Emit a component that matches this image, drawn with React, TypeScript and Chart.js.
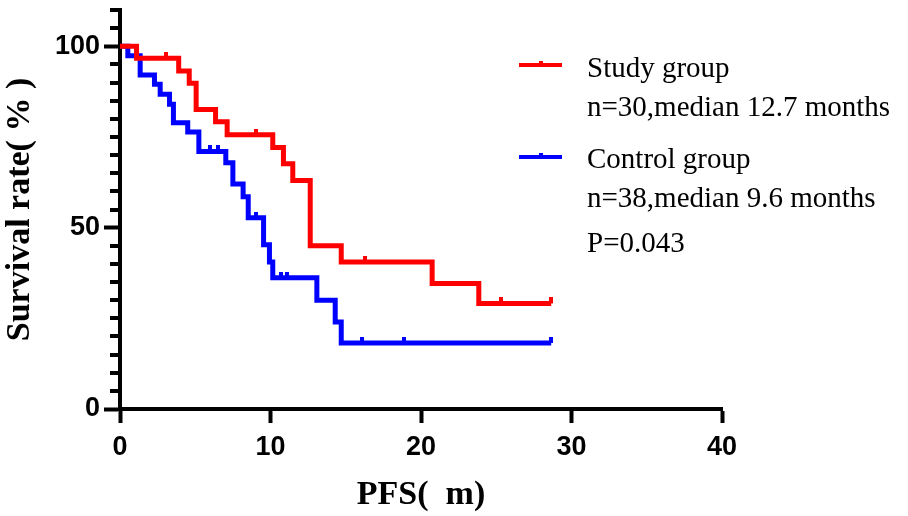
import React, { useEffect, useRef } from "react";
import { Chart, registerables } from "chart.js";

Chart.register(...registerables);

// ---- Data ----
const studyTimes = [0, 1.1, 3.07, 3.9, 4.6, 5.06, 6.35, 7.12, 9.05, 10.15, 10.86, 11.48, 12.64, 14.7, 16.25, 20.74, 23.84, 25.33, 28.65];
const studySurvival = [100, 96.7, 96.7, 93.2, 89.8, 82.6, 79.2, 75.6, 75.6, 72.1, 67.6, 63, 45, 40.5, 40.5, 34.6, 29.1, 29.1, 29.1];
const studyCensored = [false, false, true, false, false, false, false, false, true, false, false, false, false, false, true, false, false, true, true];

const controlTimes = [0, 0.52, 1.34, 2.29, 2.67, 3.29, 3.55, 4.5, 5.24, 6.0, 6.5, 7.03, 7.5, 8.18, 8.52, 9.05, 9.54, 9.93, 10.15, 10.7, 11.1, 13.08, 14.3, 14.7, 16.1, 18.9, 28.65];
const controlSurvival = [100, 97.4, 92.1, 89.5, 86.8, 84.0, 78.9, 76.4, 71.0, 71.0, 71.0, 67.9, 62.0, 58.5, 52.7, 52.7, 45.3, 40.5, 36.2, 36.2, 36.2, 30.0, 24.0, 18.2, 18.2, 18.2, 18.2];
const controlCensored = [false, false, false, false, false, false, false, false, false, true, true, false, false, false, false, true, false, false, false, true, true, false, false, false, true, true, true];

const xTickStep = 10;
const xRange = [0, 40];
const yRange = [0, 110];
const yTickStep = 5;
const yLabelValues = [0, 50, 100];

const seriesNames = ["Study group", "Control group"];
const seriesNotes = ["n=30,median 12.7 months", "n=38,median 9.6 months"];
const pValueText = "P=0.043";
const xTitle = "PFS(  m)";
const yTitle = "Survival rate( % )";

const STUDY_COLOR = "#ff0000";
const CONTROL_COLOR = "#0000ff";

function makeCensorMark(color: string) {
  const c = document.createElement("canvas");
  c.width = 4;
  c.height = 12;
  const g = c.getContext("2d")!;
  g.fillStyle = color;
  g.fillRect(0, 0, 4, 6);
  return c;
}

export default function App() {
  const ref = useRef<HTMLCanvasElement>(null);

  useEffect(() => {
    const canvas = ref.current!;
    const studyPoints = studyTimes.map((t, i) => ({ x: t, y: studySurvival[i] }));
    const controlPoints = controlTimes.map((t, i) => ({ x: t, y: controlSurvival[i] }));
    const studyMark = makeCensorMark(STUDY_COLOR);
    const controlMark = makeCensorMark(CONTROL_COLOR);

    const minorTickPlugin = {
      id: "minorTicks",
      afterDraw(chart: any) {
        const y = chart.scales.y;
        const ctx = chart.ctx;
        const left = chart.chartArea.left;
        ctx.save();
        ctx.strokeStyle = "#000";
        ctx.lineWidth = 4;
        y.ticks.forEach((t: any) => {
          if (yLabelValues.includes(t.value)) return;
          const p = Math.round(y.getPixelForValue(t.value));
          ctx.beginPath();
          ctx.moveTo(left - 10, p);
          ctx.lineTo(left, p);
          ctx.stroke();
        });
        ctx.restore();
      },
    };

    const legendPlugin = {
      id: "kmLegend",
      afterDraw(chart: any) {
        const ctx = chart.ctx;
        ctx.save();
        const items = [
          { color: STUDY_COLOR, lineY: 65, nameY: 77, noteY: 116 },
          { color: CONTROL_COLOR, lineY: 157, nameY: 168, noteY: 207 },
        ];
        items.forEach((it, i) => {
          ctx.strokeStyle = it.color;
          ctx.lineWidth = 4;
          ctx.beginPath();
          ctx.moveTo(519, it.lineY);
          ctx.lineTo(562, it.lineY);
          ctx.stroke();
          ctx.fillStyle = it.color;
          ctx.fillRect(539, it.lineY - 4, 4, 3);
          ctx.fillStyle = "#000";
          ctx.font = "29px 'Liberation Serif', serif";
          ctx.textBaseline = "alphabetic";
          ctx.textAlign = "left";
          ctx.fillText(seriesNames[i], 587, it.nameY);
          ctx.fillText(seriesNotes[i], 587, it.noteY);
        });
        ctx.fillStyle = "#000";
        ctx.fillText(pValueText, 587, 252);
        ctx.restore();
      },
    };

    const tickFont = { family: "'Liberation Sans', Arial, sans-serif", weight: "bold" as const, size: 27 };
    const titleFont = { family: "'Liberation Serif', serif", weight: "bold" as const, size: 34 };

    const chart = new Chart(canvas, {
      type: "line",
      data: {
        datasets: [
          {
            label: seriesNames[0],
            data: studyPoints,
            borderColor: STUDY_COLOR,
            backgroundColor: STUDY_COLOR,
            borderWidth: 5,
            stepped: "before",
            fill: false,
            borderCapStyle: "butt",
            borderJoinStyle: "miter",
            pointStyle: studyMark as any,
            pointRadius: (c: any) => (studyCensored[c.dataIndex] ? 5 : 0),
          },
          {
            label: seriesNames[1],
            data: controlPoints,
            borderColor: CONTROL_COLOR,
            backgroundColor: CONTROL_COLOR,
            borderWidth: 5,
            stepped: "before",
            fill: false,
            borderCapStyle: "butt",
            borderJoinStyle: "miter",
            pointStyle: controlMark as any,
            pointRadius: (c: any) => (controlCensored[c.dataIndex] ? 5 : 0),
          },
        ],
      },
      options: {
        animation: false,
        responsive: true,
        maintainAspectRatio: false,
        events: [],
        layout: { padding: { top: 8, right: 186, bottom: 0, left: 0 } },
        plugins: { legend: { display: false }, tooltip: { enabled: false } },
        scales: {
          x: {
            type: "linear",
            min: xRange[0],
            max: xRange[1],
            afterFit: (s: any) => {
              s.height = 107;
            },
            ticks: { stepSize: xTickStep, color: "#000", font: tickFont, padding: 8, maxRotation: 0 },
            grid: { display: true, drawOnChartArea: false, drawTicks: true, tickLength: 14, tickWidth: 4, tickColor: "#000" },
            border: { display: true, color: "#000", width: 4 },
            title: { display: true, text: xTitle, color: "#000", font: titleFont, padding: { top: 0, bottom: 0 } },
          },
          y: {
            type: "linear",
            min: yRange[0],
            max: yRange[1],
            afterFit: (s: any) => {
              s.width = 120;
              s.paddingTop = 0;
              s.paddingBottom = 0;
            },
            ticks: {
              stepSize: yTickStep,
              autoSkip: false,
              color: "#000",
              font: tickFont,
              padding: 4,
              callback: (v: any) => (yLabelValues.includes(Number(v)) ? String(v) : ""),
            },
            grid: {
              display: true,
              drawOnChartArea: false,
              drawTicks: true,
              tickLength: 16,
              tickWidth: 4,
              tickColor: (c: any) => (c.tick && yLabelValues.includes(c.tick.value) ? "#000" : "rgba(0,0,0,0)"),
            },
            border: { display: true, color: "#000", width: 4 },
            title: { display: true, text: yTitle, color: "#000", font: titleFont, padding: { top: 0, bottom: 0 } },
          },
        },
      } as any,
      plugins: [minorTickPlugin, legendPlugin],
    });

    return () => chart.destroy();
  }, []);

  return (
    <div style={{ position: "fixed", left: 0, top: 0, width: 908, height: 516, background: "#fff" }}>
      <canvas ref={ref} />
    </div>
  );
}
